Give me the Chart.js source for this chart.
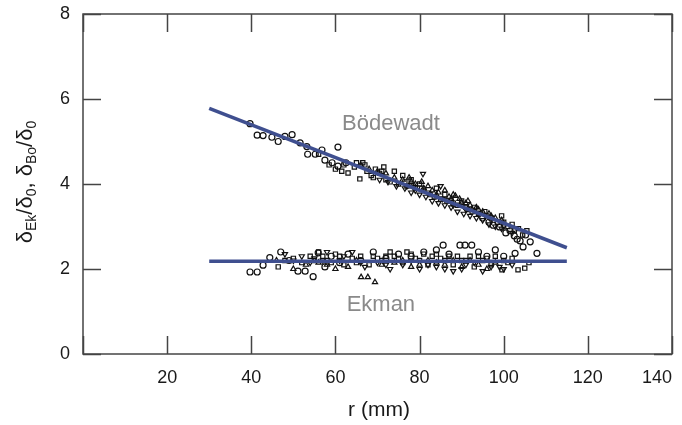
<!DOCTYPE html>
<html>
<head>
<meta charset="utf-8">
<script src="https://cdn.jsdelivr.net/npm/chart.js@4"></script>
<style>
  html, body { margin: 0; padding: 0; background: #fff; }
  #wrap { width: 682px; height: 425px; }
</style>
</head>
<body>
<div id="wrap"><canvas id="chart"></canvas></div>
<script>
// axis ticks (0 on x carries no label)
const xTicks = [0, 20, 40, 60, 80, 100, 120, 140];
const yTicks = [0, 2, 4, 6, 8];

// fitted lines
const bodLineX = [30, 115];
const bodLineY = [5.78, 2.5];
const ekLineX = [30, 115];
const ekLineY = [2.18, 2.18];

// Bödewadt layer points [r, value]
const bodCircles = [[39.7,5.42],[41.4,5.15],[42.8,5.14],[44.9,5.1],[46.4,5.0],[48,5.12],[49.7,5.16],[51.6,4.97],
  [53.2,4.88],[53.4,4.7],[55.2,4.7],[56.8,4.8],[57.5,4.56],[59.2,4.5],[60.6,4.42],[60.6,4.87],[62.5,4.5],
  [95,3.2],[96.5,3.1],[97.5,3.03],[99,2.99],[100.5,2.85],[101.5,2.9],[102.5,2.78],[103.2,2.7],[103.9,2.66],
  [104.6,2.52],[105.2,2.8],[106.3,2.64]];
const bodSquares = [[56,4.7],[58.5,4.45],[60,4.35],[61.5,4.3],[63,4.26],[64.5,4.4],[65.8,4.12],[66.5,4.5],
  [67.5,4.3],[68.5,4.2],[69.5,4.35],[70.5,4.25],[71.5,4.4],[72,4.1],[73,4.05],[74,4.3],[75,4.0],[76,4.2],
  [77,3.95],[78,4.1],[79,3.9],[80,4.0],[81,3.85],[82.5,3.75],[84,3.9],[85,3.65],[86,3.75],[87.5,3.6],
  [89,3.5],[90,3.6],[91.5,3.4],[93,3.45],[94,3.3],[95.5,3.35],[97,3.2],[98.5,3.1],[99.5,3.25],[101,3.0],
  [102,3.05],[103.5,2.95],[104.5,2.8],[105.5,2.9],[76.5,4.05],[78.5,3.95],[80.5,3.9],[83.5,3.7],[86.5,3.6],
  [88,3.55],[91,3.45],[92.5,3.35],[96,3.25],[100,3.1],[102.5,2.9],[67,4.45],[69,4.15],[71,4.3],[62,4.45],[65,4.5]];
const bodTriangles = [[66,4.45],[68,4.35],[70,4.3],[72,4.25],[74,4.15],[76,4.1],[77.5,4.15],[79,4.0],
  [80.5,4.05],[82,3.95],[83,3.85],[84.5,3.8],[86,3.85],[87,3.7],[88.5,3.72],[89.5,3.65],[91,3.55],
  [92,3.5],[93.5,3.45],[95,3.35],[96.5,3.3],[98,3.2],[99.5,3.15],[78,4.05],[81,3.9],[84,3.75],[87.5,3.65],
  [90,3.55],[92.5,3.4],[94,3.4],[97,3.25],[88,3.75],[91.5,3.6]];
const bodInvTriangles = [[70.5,4.1],[72.5,4.05],[74.5,3.95],[76.5,3.9],[78,3.8],[80,3.75],[81.5,3.7],
  [83,3.6],[84.5,3.55],[86,3.5],[87.5,3.45],[89,3.35],[90.5,3.3],[92,3.25],[93.5,3.2],[95,3.15],
  [96.5,3.05],[98,3.0],[99.5,2.95],[85,3.95],[80.8,4.24],[77,3.95],[79,3.85],[82,3.8],[85.5,3.65],
  [88,3.5],[91,3.4],[94,3.3],[97,3.15],[100,3.0],[102,2.85]];

// Ekman layer points [r, value]
const ekCircles = [[39.7,1.93],[41.4,1.93],[42.8,2.09],[44.4,2.27],[47,2.4],[49,2.2],[51.1,1.95],[52.8,1.95],
  [54.7,1.82],[55.9,2.38],[57.5,2.05],[59,2.3],[61,2.15],[63,2.35],[66,2.2],[69,2.4],[72,2.25],[75,2.35],
  [78,2.3],[81,2.4],[84,2.45],[85.6,2.56],[87,2.35],[89.6,2.56],[90.8,2.56],[92.4,2.56],[94,2.4],[96,2.3],
  [98,2.45],[100,2.3],[102.7,2.37],[107.9,2.37]];
const ekSquares = [[46.4,2.05],[48,2.2],[50,2.25],[52,2.15],[54,2.3],[56,2.4],[58,2.2],[60,2.35],[62,2.1],
  [64,2.25],[66,2.3],[68,2.1],[70,2.25],[72,2.3],[73,2.4],[75,2.25],[77,2.4],[79,2.25],[81,2.35],[82,2.1],
  [83,2.3],[85,2.25],[87,2.3],[88,2.1],[90,2.2],[92,2.3],[93,2.05],[95,2.2],[97,2.1],[99.6,1.98],[101,2.15],
  [103.4,1.98],[105,2.02],[106,2.15],[55,2.2],[57,2.3],[59,2.15],[61,2.3],[65,2.15],[69,2.3],[71,2.2],
  [74,2.3],[76,2.15],[78,2.35],[80,2.2],[84,2.35],[86,2.2],[89,2.3],[91,2.2],[94,2.3],[96,2.25],[98,2.3],
  [100,2.2],[102,2.25]];
const ekTriangles = [[50,2.0],[53,2.1],[56,2.15],[60,2.0],[63,2.05],[66.1,1.81],[67.7,1.81],[69.4,1.69],
  [71,2.1],[74,2.15],[78,2.05],[82,2.2],[86,2.1],[90,2.05],[94,2.1],[98,2.15],[46,2.2],[58,2.1],[65,2.2],
  [76,2.2],[80,2.1],[84,2.15],[92,2.2],[96,2.0],[88,2.2]];
const ekInvTriangles = [[48,2.35],[52,2.3],[55,2.25],[58,2.4],[61,2.2],[64,2.4],[67,2.05],[70,2.15],
  [73,2.0],[76,2.1],[80,2.0],[84,2.05],[88,1.95],[91,2.1],[95,1.95],[99,2.05],[102,2.1],[50,2.2],[54,2.15],
  [57,2.2],[62,2.3],[66,2.15],[72,2.1],[78,2.2],[82,2.1],[86,2.0],[90,2.0],[93,2.15],[97,2.05],[100,2.0]];

// text labels placed in data coordinates
const labelText = ['Bödewadt', 'Ekman'];
const labelX = [73.2, 70.8];
const labelY = [5.42, 1.15];

const FONT = '"Liberation Sans", Arial, sans-serif';
const lineColor = '#3f4f8f';

const toXY = arr => arr.map(p => ({ x: p[0], y: p[1] }));
const zip = (xs, ys) => xs.map((x, i) => ({ x: x, y: ys[i] }));

function marker(data, style, rot) {
  return {
    type: 'scatter',
    data: toXY(data),
    pointStyle: style,
    rotation: rot || 0,
    pointRadius: 3,
    pointHoverRadius: 3,
    borderWidth: 1.2,
    borderColor: '#111',
    backgroundColor: 'rgba(255,255,255,0)',
    order: 2
  };
}

function fitLine(xs, ys) {
  return {
    type: 'line',
    data: zip(xs, ys),
    borderColor: lineColor,
    borderWidth: 3.5,
    pointRadius: 0,
    fill: false,
    order: 0
  };
}

// frame, inward ticks, titles and annotations
const decor = {
  id: 'decor',
  afterDraw(chart) {
    const ctx = chart.ctx;
    const a = chart.chartArea;
    const xs = chart.scales.x, ys = chart.scales.y;
    const tl = 18;
    ctx.save();
    ctx.strokeStyle = '#444';
    ctx.lineWidth = 1.5;
    ctx.strokeRect(a.left, a.top, a.right - a.left, a.bottom - a.top);
    ctx.beginPath();
    xTicks.forEach(v => {
      const px = Math.round(xs.getPixelForValue(v)) + 0.5;
      ctx.moveTo(px, a.bottom); ctx.lineTo(px, a.bottom - tl);
      ctx.moveTo(px, a.top); ctx.lineTo(px, a.top + tl);
    });
    yTicks.forEach(v => {
      const py = Math.round(ys.getPixelForValue(v)) + 0.5;
      ctx.moveTo(a.left, py); ctx.lineTo(a.left + tl, py);
      ctx.moveTo(a.right, py); ctx.lineTo(a.right - tl, py);
    });
    ctx.stroke();

    // annotations
    ctx.fillStyle = '#8a8a8a';
    ctx.font = '22px ' + FONT;
    ctx.textAlign = 'center';
    ctx.textBaseline = 'middle';
    labelText.forEach((t, i) => {
      ctx.fillText(t, xs.getPixelForValue(labelX[i]), ys.getPixelForValue(labelY[i]));
    });

    // x title
    ctx.fillStyle = '#1a1a1a';
    ctx.font = '21px ' + FONT;
    ctx.fillText('r (mm)', 379, 410);

    // y title with subscripts
    const parts = [['δ', 0], ['Ek', 1], ['/δ', 0], ['0', 1], [', δ', 0], ['Bo', 1], ['/δ', 0], ['0', 1]];
    const big = '22px ' + FONT, small = '14px ' + FONT;
    let total = 0;
    parts.forEach(p => { ctx.font = p[1] ? small : big; total += ctx.measureText(p[0]).width; });
    ctx.translate(24, 182);
    ctx.rotate(-Math.PI / 2);
    ctx.textAlign = 'left';
    ctx.textBaseline = 'alphabetic';
    let cx = -total / 2;
    parts.forEach(p => {
      ctx.font = p[1] ? small : big;
      ctx.fillText(p[0], cx, p[1] ? 12 : 8);
      cx += ctx.measureText(p[0]).width;
    });
    ctx.restore();
  }
};

new Chart(document.getElementById('chart'), {
  type: 'scatter',
  data: {
    datasets: [
      fitLine(bodLineX, bodLineY),
      fitLine(ekLineX, ekLineY),
      marker(bodCircles, 'circle'),
      marker(bodSquares, 'rect'),
      marker(bodTriangles, 'triangle'),
      marker(bodInvTriangles, 'triangle', 180),
      marker(ekCircles, 'circle'),
      marker(ekSquares, 'rect'),
      marker(ekTriangles, 'triangle'),
      marker(ekInvTriangles, 'triangle', 180)
    ]
  },
  options: {
    responsive: true,
    maintainAspectRatio: false,
    animation: false,
    layout: { padding: { left: 0, right: 10, top: 14, bottom: 0 } },
    plugins: { legend: { display: false }, tooltip: { enabled: false } },
    scales: {
      x: {
        type: 'linear', min: 0, max: 140,
        grid: { display: false, drawTicks: false },
        border: { display: false },
        afterBuildTicks: s => { s.ticks = xTicks.map(v => ({ value: v })); },
        ticks: {
          padding: 13, align: 'inner', color: '#1a1a1a', font: { family: FONT, size: 18 }, maxRotation: 0,
          callback: v => (v === 0 ? '' : v)
        },
        afterFit: s => { s.height = 71; s.paddingLeft = 0; s.paddingRight = 0; }
      },
      y: {
        type: 'linear', min: 0, max: 8,
        grid: { display: false, drawTicks: false },
        border: { display: false },
        afterBuildTicks: s => { s.ticks = yTicks.map(v => ({ value: v })); },
        ticks: { padding: 13, color: '#1a1a1a', font: { family: FONT, size: 18 } },
        afterFit: s => { s.width = 83; s.paddingTop = 0; s.paddingBottom = 0; }
      }
    }
  },
  plugins: [decor]
});
</script>
</body>
</html>
